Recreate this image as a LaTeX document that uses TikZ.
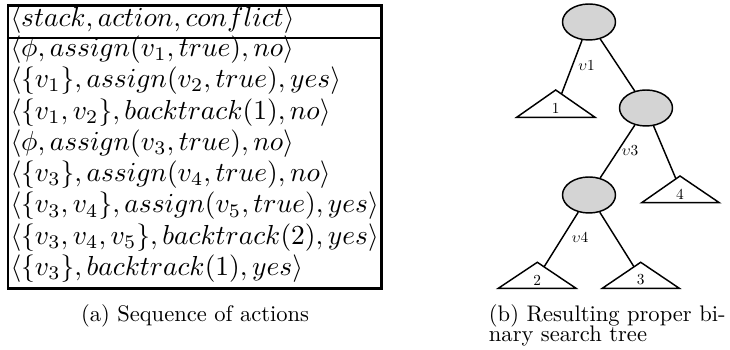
\documentclass[tikz,border=0pt]{standalone}
\usetikzlibrary{shapes.geometric}
\begin{document}
\begin{tikzpicture}[x=0.4437pt,y=-0.4437pt,
  tblline/.style={line width=1.3pt},
  rowtxt/.style={anchor=base west,inner sep=0pt,scale=1.22},
  captxt/.style={anchor=base west,inner sep=0pt},
  vnode/.style={ellipse,draw,line width=0.65pt,fill=black!17,inner sep=0pt,
    minimum width={53*0.4437pt},minimum height={36*0.4437pt}},
  tribox/.style={draw,line width=0.65pt,line join=miter},
  conn/.style={line width=0.65pt},
  lbl/.style={inner sep=0pt,scale=0.68}]
\useasboundingbox (0,0) rectangle (730,350);
% table
\draw[tblline] (8,5.5) rectangle (381.5,288.5);
\draw[tblline] (8,38) -- (381.5,38);
\node[rowtxt] (h) at (10,27) {$\langle stack, action, conflict\rangle$};
\node[rowtxt] (r1) at (10,56.5) {$\langle \phi, assign(v_1, true), no\rangle$};
\node[rowtxt] (r2) at (10,87.8) {$\langle \{v_1\}, assign(v_2, true), yes\rangle$};
\node[rowtxt] (r3) at (10,119.1) {$\langle \{v_1, v_2\}, backtrack(1), no\rangle$};
\node[rowtxt] (r4) at (10,150.4) {$\langle \phi, assign(v_3, true), no\rangle$};
\node[rowtxt] (r5) at (10,181.7) {$\langle \{v_3\}, assign(v_4, true), no\rangle$};
\node[rowtxt] (r6) at (10,213.0) {$\langle \{v_3, v_4\}, assign(v_5, true), yes\rangle$};
\node[rowtxt] (r7) at (10,244.3) {$\langle \{v_3, v_4, v_5\}, backtrack(2), yes\rangle$};
\node[rowtxt] (r8) at (10,275.6) {$\langle \{v_3\}, backtrack(1), yes\rangle$};
\node[captxt,anchor=base] (capa) at (195,322) {(a) Sequence of actions};
% tree
\node[vnode] (n1) at (589,22) {};
\node[vnode] (n3) at (646,108) {};
\node[vnode] (n4) at (589,195) {};
\draw[tribox] (555.7,90) -- (595,117.3) -- (516.7,117.3) -- cycle;
\draw[tribox] (680,176) -- (719.3,202.7) -- (641.7,202.7) -- cycle;
\draw[tribox] (537.3,262.3) -- (576,288.3) -- (498.3,288.3) -- cycle;
\draw[tribox] (640.7,262.3) -- (679.3,288.3) -- (602.3,288.3) -- cycle;
\node[lbl] (t1) at (555.7,108) {1};
\node[lbl] (t4) at (680,194) {4};
\node[lbl] (t2) at (537.3,280) {2};
\node[lbl] (t3) at (640.7,280) {3};
\coordinate (c1) at (561.5,94);
\coordinate (c4) at (676,179);
\coordinate (c2) at (544,267);
\coordinate (c3) at (634,266.8);
\draw[conn] (n1) -- (c1);
\draw[conn] (n1) -- (n3);
\draw[conn] (n3) -- (n4);
\draw[conn] (n3) -- (c4);
\draw[conn] (n4) -- (c2);
\draw[conn] (n4) -- (c3);
\node[lbl] (l1) at (586.5,65.5) {$\upsilon$1};
\node[lbl] (l3) at (630,151) {$\upsilon$3};
\node[lbl] (l4) at (580,237.5) {$\upsilon$4};
\node[captxt] (capb1) at (488.5,322) {(b) Resulting proper bi-};
\node[captxt] (capb2) at (488.5,341.5) {nary search tree};
\end{tikzpicture}
\end{document}
